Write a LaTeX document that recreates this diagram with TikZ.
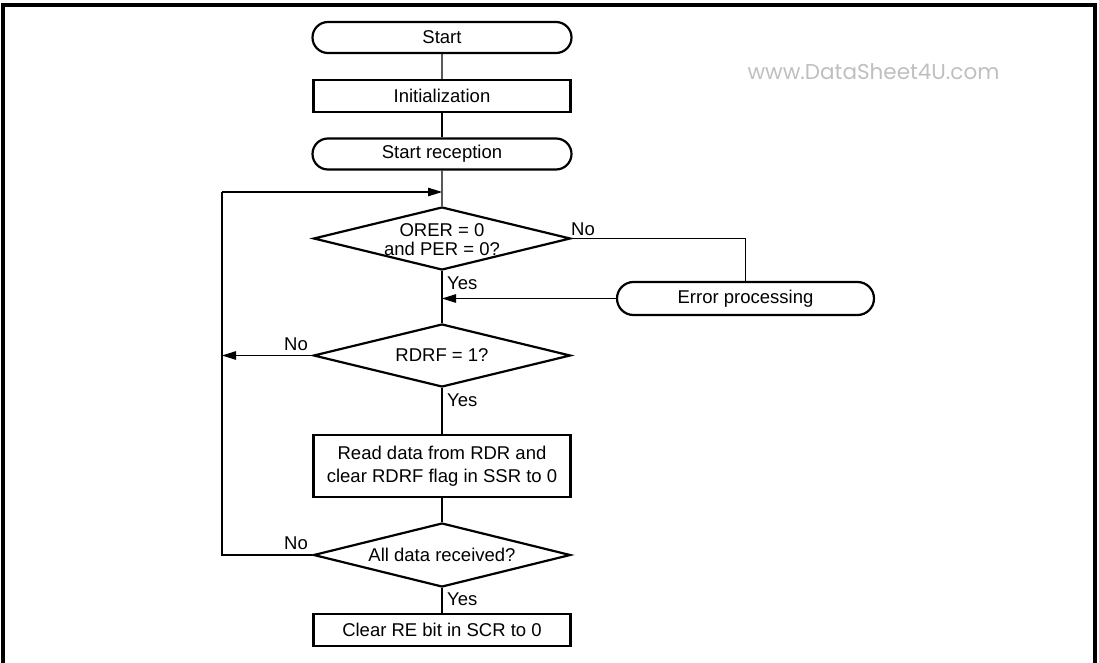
\documentclass[tikz,border=0pt]{standalone}
\usepackage{fontspec}
\setmainfont{Liberation Sans}
\newfontfamily\wmfont{Poppins}
\usetikzlibrary{shapes.geometric,shapes.misc,arrows.meta}
\begin{document}
\begin{tikzpicture}[x=1pt,y=-1pt,
  every node/.style={font=\fontsize{18.5}{23}\selectfont},
  term/.style={rounded rectangle, draw, line width=2.2pt, minimum width=259pt, minimum height=31pt, inner sep=0pt},
  proc/.style={rectangle, draw, line width=2.2pt, minimum width=257pt, minimum height=32pt, inner sep=0pt},
  dec/.style={diamond, draw, line width=2.2pt, minimum width=257pt, minimum height=63pt, inner sep=0pt},
  lbl/.style={inner sep=0pt},
  conn/.style={line width=1.1pt},
  arr/.style={conn, -{Triangle[length=14pt,width=8.5pt]}}]
\useasboundingbox (0,0) rectangle (1099,663);
\draw[line width=3.5pt] (3,663) -- (3,5) -- (1095,5) -- (1095,663);

\node[font=\wmfont\fontsize{21.5}{21.5}\selectfont, text=gray!50, anchor=base west] (wm) at (744,80) {www.DataSheet4U.com};

\node[term] (start) at (442,37.5) {Start};
\node[proc] (init) at (442,96) {Initialization};
\node[term] (srec) at (442,154) {Start reception};
\node[dec] (d1) at (442,238.5) {};
\node[lbl, align=center, font=\fontsize{18.5}{19.5}\selectfont] (d1t) at (442,239.5) {ORER = 0\\and PER = 0?};
\node[term, minimum width=257pt, minimum height=33pt] (err) at (745.5,298.5) {Error processing};
\node[dec] (d2) at (442,355.5) {};
\node[lbl] (d2t) at (d2) {RDRF = 1?};
\node[proc, minimum height=62pt, align=center] (read) at (442,466) {Read data from RDR and\\clear RDRF flag in SSR to 0};
\node[dec, minimum height=64pt] (d3) at (442,555) {};
\node[lbl] (d3t) at (d3) {All data received?};
\node[proc] (clr) at (442,630) {Clear RE bit in SCR to 0};

\coordinate (jtop) at (442,192);
\coordinate (ltop) at (222,192);
\coordinate (lbot) at (222,555);
\coordinate (lmid) at (222,355.5);
\coordinate (jerr) at (442,298.5);

\draw[conn] (start) -- (init);
\draw[conn] (init) -- (srec);
\draw[conn] (srec) -- (d1);
\draw[conn] (d1) -- (d2);
\draw[conn] (d2) -- (read);
\draw[conn] (read) -- (d3);
\draw[conn] (d3) -- (clr);
\draw[conn] (d1.east) -| (err.north);
\draw[arr] (err.west) -- (jerr);
\draw[arr] (d2.west) -- (lmid);
\draw[conn] (d3.west) -- (lbot) -- (ltop);
\draw[arr] (ltop) -- (jtop);

\node[lbl, anchor=base west] (no1) at (571,235) {No};
\node[lbl, anchor=base west] (yes1) at (447,289) {Yes};
\node[lbl, anchor=base east] (no2) at (308,350) {No};
\node[lbl, anchor=base west] (yes2) at (447,406) {Yes};
\node[lbl, anchor=base east] (no3) at (308,549) {No};
\node[lbl, anchor=base west] (yes3) at (447,605) {Yes};
\end{tikzpicture}
\end{document}
